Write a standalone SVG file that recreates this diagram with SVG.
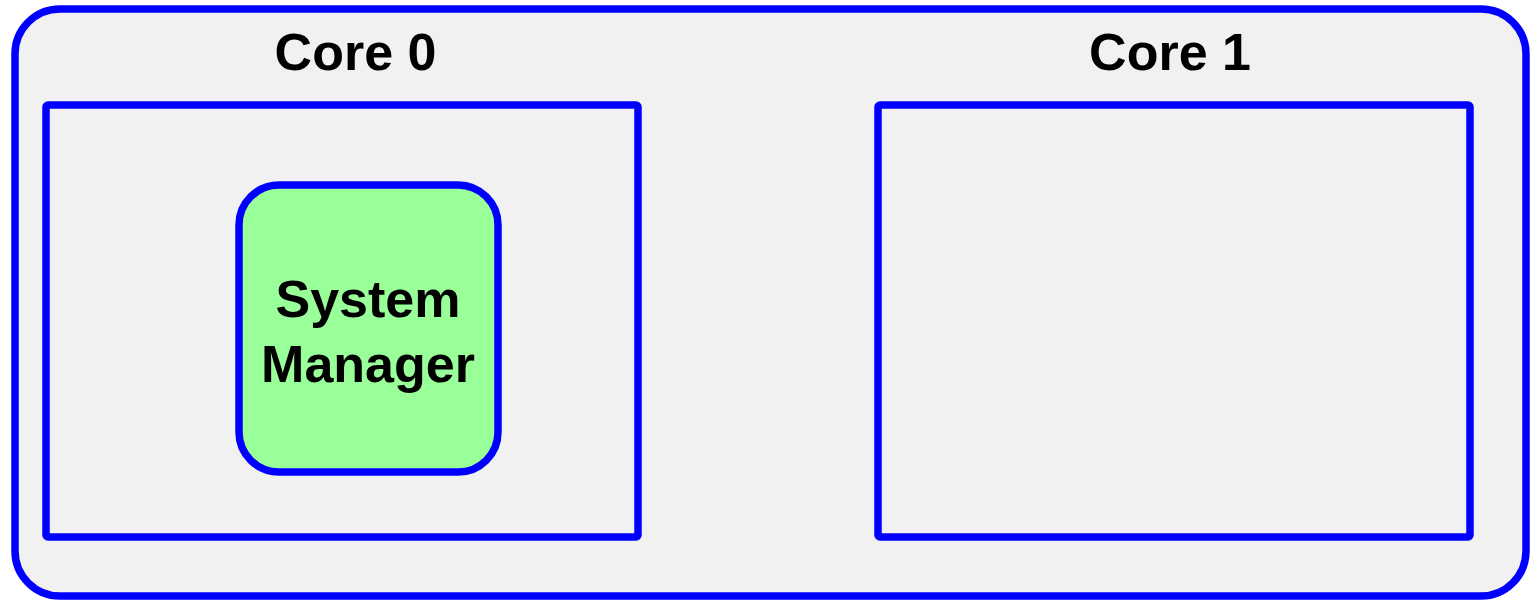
<svg xmlns="http://www.w3.org/2000/svg" width="1530" height="600" viewBox="0 0 1530 600">
<style>
.frame{fill:#f1f1f1;stroke:#0000ff;stroke-width:7.5}
.core{fill:none;stroke:#0000ff;stroke-width:7.5;stroke-linejoin:round}
.node{fill:#99ff99;stroke:#0000ff;stroke-width:7.5}
.t{font-family:"Liberation Sans",Arial,sans-serif;font-weight:bold;font-size:52px;fill:#000;text-anchor:middle}
</style>
<rect width="1530" height="600" fill="#ffffff"/>
<g id="container">
<rect class="frame" x="15" y="9" width="1511" height="587" rx="45" ry="45"/>
<text class="t" x="355.5" y="70">Core 0</text>
<text class="t" x="1170" y="70">Core 1</text>
</g>
<g id="core0"><rect class="core" x="46" y="105" width="592" height="432" rx="2"/></g>
<g id="core1"><rect class="core" x="878" y="105" width="592" height="432" rx="2"/></g>
<g id="system-manager">
<rect class="node" x="239" y="185" width="259" height="287" rx="40" ry="40"/>
<text class="t" x="368" y="317">System</text>
<text class="t" x="368" y="382">Manager</text>
</g>
<g id="connectors"></g>
</svg>
